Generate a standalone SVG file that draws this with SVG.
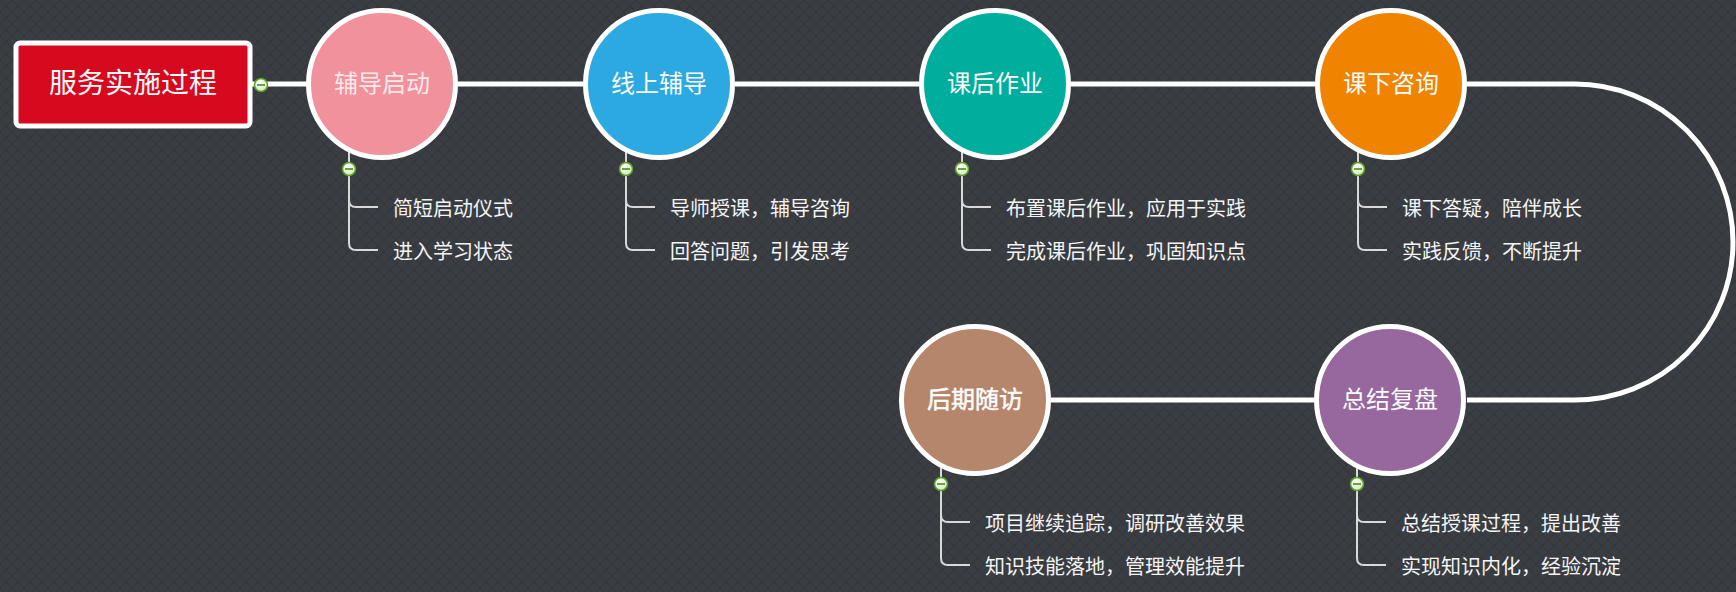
<svg xmlns="http://www.w3.org/2000/svg" width="1736" height="592" viewBox="0 0 1736 592">
<defs>
<pattern id="bgp" width="12" height="12" patternUnits="userSpaceOnUse">
<rect width="12" height="12" fill="#3a3e43"/>
<path d="M0 0 L12 12 M12 0 L0 12" stroke="#33373b" stroke-width="1.2"/>
</pattern>
<radialGradient id="ig" cx="0.4" cy="0.35" r="0.7">
<stop offset="0" stop-color="#ffffff"/>
<stop offset="1" stop-color="#cfe6b4"/>
</radialGradient>
<style>
.main{fill:none;stroke:#ffffff;stroke-width:5}
.sub{fill:none;stroke:#d9d9d9;stroke-width:2}
.node{stroke:#ffffff;stroke-width:5}
.lbl{font-family:"Noto Sans CJK SC","Microsoft YaHei",sans-serif;font-size:24px;fill:#fbfbfb;text-anchor:middle}
.kid{font-family:"Noto Sans CJK SC","Microsoft YaHei",sans-serif;font-size:20px;fill:#f4f4f4}
.ic{fill:url(#ig);stroke:#5c9e25;stroke-width:1.5}
.icm{stroke:#4c8c18;stroke-width:1.6}
</style>
</defs>
<rect width="1736" height="592" fill="url(#bgp)"/>

<g id="connectors">
<path class="main" d="M252 84 H307"/>
<path class="main" d="M458 84 H583"/>
<path class="main" d="M735 84 H919"/>
<path class="main" d="M1071 84 H1315"/>
<path class="main" d="M1467 84 H1575 A158 158 0 0 1 1575 400 H1467"/>
<path class="main" d="M1314 400 H1051"/>
<path class="sub" d="M349 152 V162 M349 176 V243 Q349 250 356 250 H378 M349 200 Q349 207 356 207 H378"/>
<path class="sub" d="M626 152 V162 M626 176 V243 Q626 250 633 250 H655 M626 200 Q626 207 633 207 H655"/>
<path class="sub" d="M962 152 V162 M962 176 V243 Q962 250 969 250 H991 M962 200 Q962 207 969 207 H991"/>
<path class="sub" d="M1358 152 V162 M1358 176 V243 Q1358 250 1365 250 H1387 M1358 200 Q1358 207 1365 207 H1387"/>
<path class="sub" d="M1357 468 V477 M1357 491 V558 Q1357 565 1364 565 H1386 M1357 515 Q1357 522 1364 522 H1386"/>
<path class="sub" d="M941 468 V477 M941 491 V558 Q941 565 948 565 H970 M941 515 Q941 522 948 522 H970"/>
</g>

<g id="root">
<rect x="16" y="43" width="234" height="83" rx="4" fill="#d6091e" stroke="#ffffff" stroke-width="5"/>
<text x="133" y="93" class="lbl" style="font-size:28px">服务实施过程</text>
<circle class="ic" cx="261" cy="85" r="6.5"/><path class="icm" d="M257 85 H265"/>
</g>

<g id="n1">
<circle class="node" cx="382" cy="84" r="73.5" fill="#f0919b"/>
<text x="382" y="92" class="lbl" style="fill:#fde8ea">辅导启动</text>
<circle class="ic" cx="349" cy="169" r="6.5"/><path class="icm" d="M345 169 H353"/>
<text x="393" y="216" class="kid">简短启动仪式</text>
<text x="393" y="259" class="kid">进入学习状态</text>
</g>

<g id="n2">
<circle class="node" cx="659" cy="84" r="73.5" fill="#2da9e1"/>
<text x="659" y="92" class="lbl">线上辅导</text>
<circle class="ic" cx="626" cy="169" r="6.5"/><path class="icm" d="M622 169 H630"/>
<text x="670" y="216" class="kid">导师授课，辅导咨询</text>
<text x="670" y="259" class="kid">回答问题，引发思考</text>
</g>

<g id="n3">
<circle class="node" cx="995" cy="84" r="73.5" fill="#00ae9d"/>
<text x="995" y="92" class="lbl">课后作业</text>
<circle class="ic" cx="962" cy="169" r="6.5"/><path class="icm" d="M958 169 H966"/>
<text x="1006" y="216" class="kid">布置课后作业，应用于实践</text>
<text x="1006" y="259" class="kid">完成课后作业，巩固知识点</text>
</g>

<g id="n4">
<circle class="node" cx="1391" cy="84" r="73.5" fill="#f08300"/>
<text x="1391" y="92" class="lbl">课下咨询</text>
<circle class="ic" cx="1358" cy="169" r="6.5"/><path class="icm" d="M1354 169 H1362"/>
<text x="1402" y="216" class="kid">课下答疑，陪伴成长</text>
<text x="1402" y="259" class="kid">实践反馈，不断提升</text>
</g>

<g id="n5">
<circle class="node" cx="1390" cy="400" r="73.5" fill="#96689e"/>
<text x="1390" y="408" class="lbl">总结复盘</text>
<circle class="ic" cx="1357" cy="484" r="6.5"/><path class="icm" d="M1353 484 H1361"/>
<text x="1401" y="531" class="kid">总结授课过程，提出改善</text>
<text x="1401" y="574" class="kid">实现知识内化，经验沉淀</text>
</g>

<g id="n6">
<circle class="node" cx="975" cy="400" r="73.5" fill="#b5866c"/>
<text x="975" y="408" class="lbl" style="stroke:#ffffff;stroke-width:0.5">后期随访</text>
<circle class="ic" cx="941" cy="484" r="6.5"/><path class="icm" d="M937 484 H945"/>
<text x="985" y="531" class="kid">项目继续追踪，调研改善效果</text>
<text x="985" y="574" class="kid">知识技能落地，管理效能提升</text>
</g>
</svg>
